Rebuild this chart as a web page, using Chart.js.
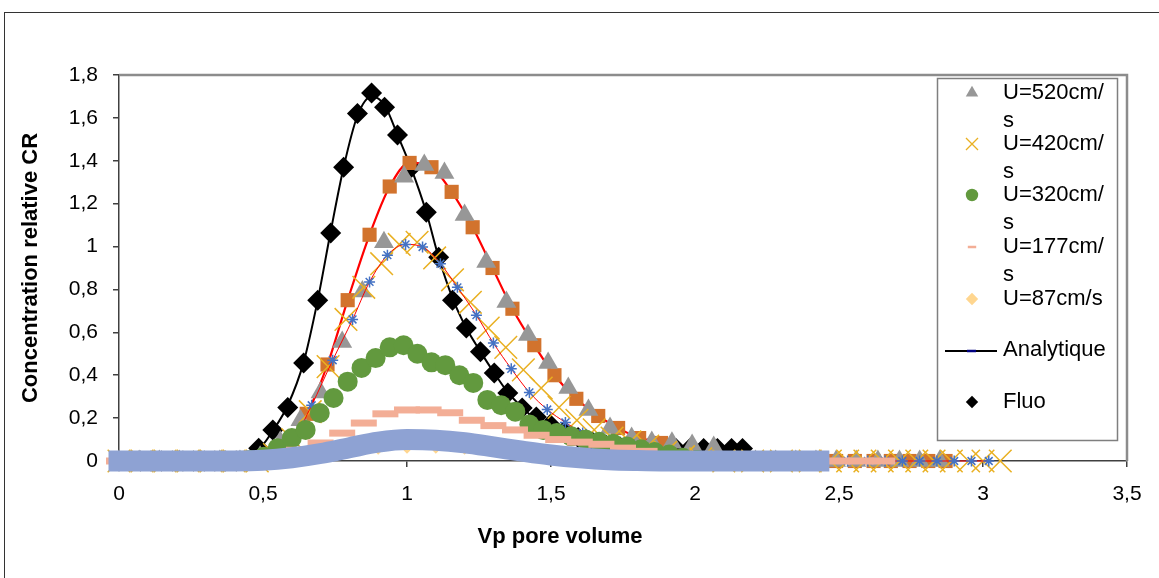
<!DOCTYPE html>
<html lang="fr">
<head>
<meta charset="utf-8">
<title>Concentration relative CR</title>
<script src="https://cdn.jsdelivr.net/npm/chart.js@4.4.1/dist/chart.umd.min.js"></script>
<style>
  html, body { margin: 0; padding: 0; background: #fff; }
  canvas { display: block; }
</style>
</head>
<body>
<canvas id="courbe" width="1159" height="578"></canvas>
<script>
// Courbes de percée : concentration relative en fonction du volume de pores

// Graduations
const xTickLabels = ['0', '0,5', '1', '1,5', '2', '2,5', '3', '3,5'];
const yTickLabels = ['0', '0,2', '0,4', '0,6', '0,8', '1', '1,2', '1,4', '1,6', '1,8'];

// Fluo (losanges noirs)
const fluoX = [0, 0.037, 0.074, 0.111, 0.148, 0.185, 0.222, 0.259, 0.296, 0.333, 0.37, 0.407, 0.444,
  0.485, 0.534, 0.586, 0.641, 0.69, 0.735, 0.78, 0.828, 0.877, 0.922, 0.967, 1.016, 1.067, 1.11, 1.158,
  1.206, 1.255, 1.303, 1.35, 1.4, 1.449, 1.497, 1.546, 1.594, 1.643, 1.691, 1.74, 1.788, 1.837, 1.885,
  1.934, 1.982, 2.03, 2.078, 2.127, 2.165];
const fluoY = [0, 0, 0, 0, 0, 0, 0, 0, 0, 0, 0, 0, 0,
  0.06, 0.145, 0.25, 0.457, 0.75, 1.063, 1.37, 1.62, 1.716, 1.65, 1.52, 1.37, 1.16, 0.95, 0.75,
  0.62, 0.51, 0.41, 0.317, 0.247, 0.205, 0.17, 0.14, 0.11, 0.09, 0.075, 0.065, 0.06, 0.058, 0.058,
  0.058, 0.058, 0.058, 0.058, 0.058, 0.058];

// Analytique (trait noir)
const anaX = [0, 0.45, 0.485, 0.534, 0.586, 0.641, 0.69, 0.735, 0.78, 0.828, 0.877, 0.922, 0.967, 1.016,
  1.067, 1.11, 1.158, 1.206, 1.255, 1.303, 1.35, 1.4, 1.449, 1.5, 1.55, 1.6, 1.7, 1.8, 1.9, 2.0, 2.2, 2.42];
const anaY = [0, 0, 0.05, 0.14, 0.26, 0.46, 0.75, 1.07, 1.37, 1.61, 1.70, 1.66, 1.52, 1.36,
  1.16, 0.95, 0.76, 0.62, 0.51, 0.41, 0.32, 0.25, 0.19, 0.14, 0.1, 0.075, 0.04, 0.02, 0.01, 0.005, 0, 0];

// U=520cm/s (triangles gris)
const u520X = [0, 0.07, 0.14, 0.21, 0.28, 0.35, 0.42, 0.49, 0.56, 0.63, 0.70, 0.775, 0.845, 0.92, 0.99,
  1.06, 1.13, 1.2, 1.275, 1.345, 1.42, 1.49, 1.56, 1.63, 1.705, 1.78, 1.85, 1.92, 1.99, 2.065,
  2.14, 2.21, 2.28, 2.35, 2.42, 2.49, 2.56, 2.635, 2.71, 2.78, 2.85];
const u520Y = [0, 0, 0, 0, 0, 0, 0, 0.02, 0.09, 0.19, 0.32, 0.555, 0.79, 1.02, 1.325,
  1.38, 1.343, 1.147, 0.928, 0.742, 0.588, 0.457, 0.34, 0.238, 0.154, 0.107, 0.089, 0.085, 0.075, 0.065,
  0, 0, 0, 0, 0, 0, 0, 0, 0, 0, 0];

// Série sans légende (carrés orange, trait rouge)
const carreX = [0, 0.07, 0.14, 0.22, 0.29, 0.36, 0.43, 0.5, 0.58, 0.652, 0.724, 0.794, 0.87, 0.94, 1.009,
  1.085, 1.155, 1.228, 1.297, 1.366, 1.442, 1.512, 1.588, 1.664, 1.733, 1.806, 1.882, 1.955, 2.03, 2.1,
  2.17, 2.25, 2.32, 2.39, 2.49, 2.555, 2.62, 2.68, 2.745, 2.81, 2.87];
const carreY = [0, 0, 0, 0, 0, 0, 0, 0.01, 0.08, 0.22, 0.45, 0.75, 1.055, 1.28, 1.39,
  1.37, 1.255, 1.09, 0.9, 0.71, 0.54, 0.40, 0.29, 0.21, 0.154, 0.107, 0.084, 0.02, 0.01, 0,
  0, 0, 0, 0, 0, 0, 0, 0, 0, 0, 0];

// Série sans légende (astérisques bleus, trait rouge fin)
const etoileX = [0, 0.1, 0.2, 0.3, 0.4, 0.48, 0.544, 0.606, 0.669, 0.742, 0.811, 0.87, 0.932, 0.995,
  1.054, 1.116, 1.175, 1.241, 1.3, 1.362, 1.425, 1.487, 1.55, 1.61, 1.675, 1.74, 1.8, 1.86, 1.925, 1.99,
  2.1, 2.2, 2.3, 2.42, 2.53, 2.6, 2.66, 2.72, 2.78, 2.84, 2.9, 2.96, 3.02];
const etoileY = [0, 0, 0, 0, 0, 0.01, 0.03, 0.1, 0.26, 0.47, 0.66, 0.835, 0.96, 1.01,
  0.998, 0.92, 0.81, 0.68, 0.55, 0.43, 0.32, 0.24, 0.18, 0.13, 0.09, 0.065, 0.045, 0.03, 0.02, 0.01,
  0, 0, 0, 0, 0, 0, 0, 0, 0, 0, 0, 0, 0];

// U=420cm/s (croix jaunes)
const u420X = [0, 0.08, 0.16, 0.24, 0.32, 0.4, 0.48, 0.54, 0.603, 0.664, 0.726, 0.788, 0.85, 0.912, 0.973,
  1.035, 1.096, 1.158, 1.22, 1.282, 1.343, 1.404, 1.466, 1.528, 1.59, 1.65, 1.712, 1.774, 1.836, 1.898,
  1.96, 2.02, 2.1, 2.2, 2.3, 2.4, 2.47, 2.53, 2.59, 2.65, 2.71, 2.77, 2.83, 2.89, 2.95, 3.0, 3.06];
const u420Y = [0, 0, 0, 0, 0, 0, 0, 0.03, 0.1, 0.23, 0.44, 0.66, 0.81, 0.92, 1.01,
  1.02, 0.947, 0.845, 0.74, 0.62, 0.53, 0.425, 0.34, 0.25, 0.19, 0.145, 0.107, 0.089, 0.07, 0.04,
  0.02, 0.01, 0, 0, 0, 0, 0, 0, 0, 0, 0, 0, 0, 0, 0, 0, 0];

// U=320cm/s (ronds verts)
const u320X = [0, 0.1, 0.2, 0.3, 0.4, 0.455, 0.503, 0.551, 0.6, 0.648, 0.697, 0.745, 0.794, 0.842, 0.891,
  0.94, 0.988, 1.036, 1.085, 1.133, 1.182, 1.23, 1.279, 1.327, 1.376, 1.425, 1.473, 1.52, 1.57, 1.62,
  1.667, 1.716, 1.764, 1.813, 1.86, 1.91, 1.958, 2.007, 2.1, 2.2, 2.3, 2.4];
const u320Y = [0, 0, 0, 0, 0, 0.005, 0.02, 0.06, 0.107, 0.145, 0.224, 0.294, 0.37, 0.434, 0.48,
  0.53, 0.54, 0.50, 0.46, 0.447, 0.40, 0.364, 0.285, 0.26, 0.23, 0.17, 0.145, 0.13, 0.115, 0.1,
  0.09, 0.08, 0.068, 0.055, 0.042, 0.03, 0.015, 0.005, 0, 0, 0, 0];

// U=177cm/s (tirets saumon)
const u177X = [0, 0.1, 0.2, 0.3, 0.4, 0.475, 0.55, 0.625, 0.7, 0.775, 0.85, 0.925, 1.0, 1.075, 1.15,
  1.225, 1.3, 1.375, 1.45, 1.525, 1.6, 1.675, 1.75, 1.825, 1.9, 1.975, 2.05, 2.15, 2.25, 2.35,
  2.42, 2.5, 2.575, 2.65];
const u177Y = [0, 0, 0, 0, 0, 0, 0.02, 0.05, 0.084, 0.13, 0.177, 0.22, 0.238, 0.238, 0.225,
  0.19, 0.165, 0.145, 0.12, 0.1, 0.088, 0.078, 0.06, 0.045, 0.03, 0.02, 0.01, 0, 0, 0,
  0, 0, 0, 0];

// U=87cm/s (petits losanges jaune pâle)
const u87X = [0.5, 0.6, 0.7, 0.8, 0.9, 1.0, 1.1, 1.2, 1.3, 1.4, 1.5, 1.6, 1.7, 1.8, 1.9, 2.0];
const u87Y = [0, 0.005, 0.015, 0.03, 0.045, 0.05, 0.05, 0.045, 0.04, 0.035, 0.03, 0.025, 0.02, 0.01, 0.005, 0];

// Série sans légende (large bande bleu clair)
const bandeX = [0, 0.1, 0.2, 0.3, 0.4, 0.5, 0.6, 0.7, 0.8, 0.9, 1.0, 1.1, 1.2, 1.3, 1.4, 1.5, 1.6,
  1.7, 1.8, 1.9, 2.0, 2.2, 2.43];
const bandeY = [0, 0, 0, 0, 0, 0.003, 0.015, 0.035, 0.062, 0.088, 0.1, 0.097, 0.085, 0.066, 0.046, 0.028, 0.015,
  0.006, 0.002, 0, 0, 0, 0];

// Couleurs
const GRIS = '#979797';
const ORANGE = '#D2732D';
const ROUGE = '#FF0000';
const BLEU = '#4472C4';
const OR = '#E9B022';
const VERT = '#62993E';
const SAUMON = '#F3AE96';
const JAUNE_PALE = '#FFD68F';
const BLEU_CLAIR = '#8EA2D3';
const POLICE = "'Liberation Sans', Arial, sans-serif";

function pts(xs, ys) {
  return xs.map((x, i) => ({ x: x, y: ys[i] }));
}

// Légende dessinée à la main (encadré à l'intérieur du tracé)
const legende = [
  { lignes: ['U=520cm/', 's'], y: 93, style: 'triangle', r: 7.2, fond: GRIS, trait: GRIS, ep: 0 },
  { lignes: ['U=420cm/', 's'], y: 144, style: 'crossRot', r: 8.5, fond: OR, trait: OR, ep: 1.3 },
  { lignes: ['U=320cm/', 's'], y: 195, style: 'circle', r: 6.2, fond: VERT, trait: VERT, ep: 0 },
  { lignes: ['U=177cm/', 's'], y: 247, style: 'line', r: 4.2, fond: SAUMON, trait: SAUMON, ep: 2.5 },
  { lignes: ['U=87cm/s'], y: 299, style: 'rectRot', r: 6.2, fond: JAUNE_PALE, trait: JAUNE_PALE, ep: 0 },
  { lignes: ['Analytique'], y: 350, trace: true },
  { lignes: ['Fluo'], y: 402, style: 'rectRot', r: 6.2, fond: '#000', trait: '#000', ep: 0 }
];

function marqueur(c, e, x, y) {
  c.fillStyle = e.fond;
  c.strokeStyle = e.trait;
  c.lineWidth = e.ep;
  if (Chart.helpers && Chart.helpers.drawPoint) {
    Chart.helpers.drawPoint(c, { pointStyle: e.style, radius: e.r, borderWidth: e.ep, rotation: 0 }, x, y);
  } else {
    c.beginPath();
    c.arc(x, y, e.r, 0, Math.PI * 2);
    c.fill();
  }
}

const habillage = {
  id: 'habillage',
  beforeDraw(chart) {
    const c = chart.ctx;
    c.save();
    c.fillStyle = '#fff';
    c.fillRect(0, 0, chart.width, chart.height);
    c.strokeStyle = '#333';
    c.lineWidth = 1;
    c.strokeRect(4.5, 12.5, chart.width + 20, chart.height + 20);
    c.restore();
  },
  beforeDatasetsDraw(chart) {
    const c = chart.ctx;
    const a = chart.chartArea;
    c.save();
    c.strokeStyle = '#8c8c8c';
    c.lineWidth = 2.5;
    c.beginPath();
    c.moveTo(a.left, a.top);
    c.lineTo(a.right, a.top);
    c.lineTo(a.right, a.bottom);
    c.stroke();
    c.restore();
  },
  afterDraw(chart) {
    const c = chart.ctx;
    c.save();
    // encadré de légende
    c.fillStyle = '#fff';
    c.fillRect(937, 78, 181, 363);
    c.strokeStyle = '#7f7f7f';
    c.lineWidth = 1.5;
    c.strokeRect(937.5, 78.5, 180, 362);

    c.font = '22px ' + POLICE;
    c.textBaseline = 'middle';
    c.textAlign = 'left';
    legende.forEach(e => {
      if (e.trace) {
        c.strokeStyle = '#000';
        c.lineWidth = 2;
        c.beginPath();
        c.moveTo(945, e.y + 1);
        c.lineTo(997, e.y + 1);
        c.stroke();
        c.strokeStyle = '#000080';
        c.lineWidth = 2.5;
        c.beginPath();
        c.moveTo(967, e.y + 1);
        c.lineTo(976, e.y + 1);
        c.stroke();
      } else {
        marqueur(c, e, 972, e.y);
      }
      c.fillStyle = '#000';
      e.lignes.forEach((t, i) => c.fillText(t, 1003, e.y + i * 28));
    });

    // titre de l'axe horizontal
    c.font = 'bold 22px ' + POLICE;
    c.textAlign = 'center';
    c.fillText('Vp pore volume', 560, 537);
    c.restore();
  }
};

Chart.defaults.font.family = POLICE;
Chart.defaults.color = '#000';

const commun = { clip: false };

const datasets = [
  Object.assign({ label: 'bande', data: pts(bandeX, bandeY), showLine: true, borderColor: BLEU_CLAIR,
    borderWidth: 21, borderCapStyle: 'square', borderJoinStyle: 'round',
    cubicInterpolationMode: 'monotone', pointRadius: 0 }, commun),
  Object.assign({ label: 'U=87cm/s', data: pts(u87X, u87Y), pointStyle: 'rectRot', pointRadius: 3.5,
    pointBackgroundColor: JAUNE_PALE, pointBorderWidth: 0 }, commun),
  Object.assign({ label: 'U=177cm/s', data: pts(u177X, u177Y), pointStyle: 'line', pointRadius: 13,
    pointBorderColor: SAUMON, pointBackgroundColor: SAUMON, pointBorderWidth: 7 }, commun),
  Object.assign({ label: 'U=320cm/s', data: pts(u320X, u320Y), pointStyle: 'circle', pointRadius: 10,
    pointBackgroundColor: VERT, pointBorderWidth: 0 }, commun),
  Object.assign({ label: 'astérisques', data: pts(etoileX, etoileY), showLine: true, borderColor: ROUGE,
    borderWidth: 1, cubicInterpolationMode: 'monotone', pointStyle: 'star', pointRadius: 5.5,
    pointBorderColor: BLEU, pointBackgroundColor: BLEU, pointBorderWidth: 1.5 }, commun),
  Object.assign({ label: 'U=420cm/s', data: pts(u420X, u420Y), pointStyle: 'crossRot', pointRadius: 16,
    pointBorderColor: OR, pointBackgroundColor: OR, pointBorderWidth: 1.5 }, commun),
  Object.assign({ label: 'U=520cm/s', data: pts(u520X, u520Y), pointStyle: 'triangle', pointRadius: 11.5,
    pointBackgroundColor: GRIS, pointBorderWidth: 0 }, commun),
  Object.assign({ label: 'carrés', data: pts(carreX, carreY), showLine: true, borderColor: ROUGE,
    borderWidth: 2.2, cubicInterpolationMode: 'monotone', pointStyle: 'rect', pointRadius: 10,
    pointBackgroundColor: ORANGE, pointBorderWidth: 0 }, commun),
  Object.assign({ label: 'Analytique', data: pts(anaX, anaY), showLine: true, borderColor: '#000',
    borderWidth: 2, cubicInterpolationMode: 'monotone', pointRadius: 0 }, commun),
  Object.assign({ label: 'Fluo', data: pts(fluoX, fluoY), pointStyle: 'rectRot', pointRadius: 10.5,
    pointBackgroundColor: '#000', pointBorderWidth: 0 }, commun)
];

const axe = { color: '#404040', width: 1.5 };
const traits = { display: true, drawOnChartArea: false, drawTicks: true, tickLength: 6, color: '#404040', lineWidth: 1.5 };

new Chart(document.getElementById('courbe'), {
  type: 'scatter',
  data: { datasets: datasets },
  options: {
    responsive: false,
    animation: false,
    events: [],
    layout: { padding: { top: 75, right: 32, left: 0, bottom: 0 } },
    plugins: { legend: { display: false }, tooltip: { enabled: false } },
    scales: {
      x: {
        type: 'linear', min: 0, max: 3.5,
        border: axe, grid: traits,
        ticks: { stepSize: 0.5, autoSkip: false, padding: 15, font: { size: 21 },
          callback: (v, i) => xTickLabels[i] },
        afterFit: s => { s.height = 117; }
      },
      y: {
        type: 'linear', min: 0, max: 1.8,
        border: axe, grid: traits,
        ticks: { stepSize: 0.2, autoSkip: false, padding: 15, font: { size: 21 },
          callback: (v, i) => yTickLabels[i] },
        title: { display: true, text: 'Concentration relative CR', font: { size: 22, weight: 'bold' },
          padding: { top: 18, bottom: 0 } },
        afterFit: s => { s.width = 119; }
      }
    }
  },
  plugins: [habillage]
});
</script>
</body>
</html>
